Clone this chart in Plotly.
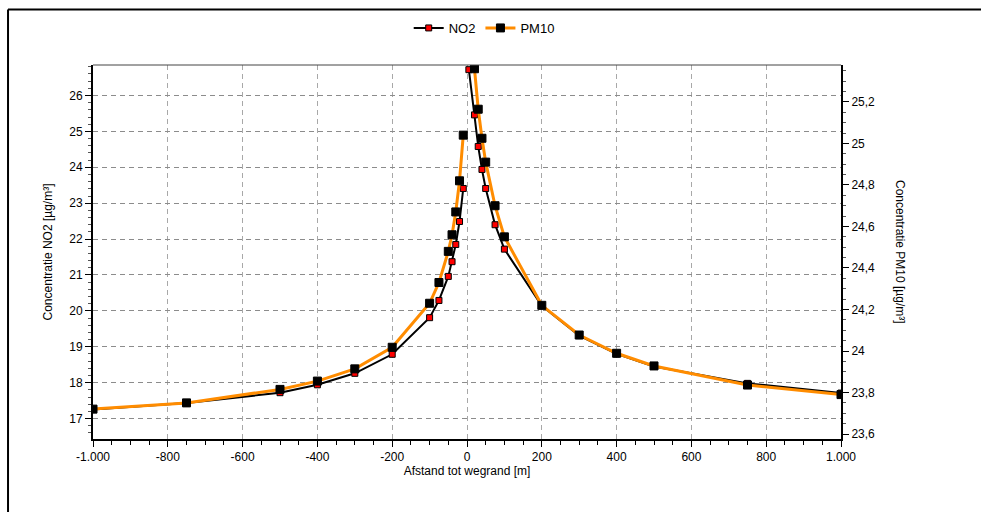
import plotly.graph_objects as go

# ---- data ----
distance_no2 = [-1000, -750, -500, -400, -300, -200, -100, -75, -50, -40, -30, -20, -10, None,
                5, 20, 30, 40, 50, 75, 100, 200, 300, 400, 500, 750, 1000]
no2 = [17.25, 17.43, 17.72, 17.94, 18.26, 18.79, 19.81, 20.29, 20.96, 21.37, 21.85, 22.49, 23.41, None,
       26.72, 25.46, 24.58, 23.94, 23.41, 22.40, 21.72, 20.14, 19.31, 18.80, 18.45, 17.98, 17.71]

distance_pm10 = [-1000, -750, -500, -400, -300, -200, -100, -75, -50, -40, -30, -20, -10, None,
                 20, 30, 40, 50, 75, 100, 200, 300, 400, 500, 750, 1000]
pm10 = [23.72, 23.75, 23.815, 23.855, 23.914, 24.018, 24.23, 24.33, 24.48, 24.56, 24.67, 24.82, 25.04, None,
        25.36, 25.165, 25.025, 24.91, 24.70, 24.55, 24.22, 24.077, 23.989, 23.928, 23.836, 23.79]

x_tickvals = [-1000, -800, -600, -400, -200, 0, 200, 400, 600, 800, 1000]
x_ticktext = ["-1.000", "-800", "-600", "-400", "-200", "0", "200", "400", "600", "800", "1.000"]

FONT = "Arial, Liberation Sans, sans-serif"

fig = go.Figure()
fig.add_trace(go.Scatter(
    x=distance_no2, y=no2, name="NO2", mode="lines+markers", connectgaps=False,
    line=dict(color="black", width=2),
    marker=dict(symbol="square", size=6, color="#ff0000", line=dict(color="black", width=1)),
    yaxis="y"))
fig.add_trace(go.Scatter(
    x=distance_pm10, y=pm10, name="PM10", mode="lines+markers", connectgaps=False,
    line=dict(color="#ff8c00", width=3),
    marker=dict(symbol="square", size=8, color="black", line=dict(color="black", width=1)),
    yaxis="y2"))

grid_dash = "5px,4px"
fig.update_layout(
    width=981, height=512,
    margin=dict(l=93, r=140, t=65, b=73),
    paper_bgcolor="white", plot_bgcolor="white",
    font=dict(family=FONT, size=12, color="black"),
    separators=",.",
    showlegend=True,
    legend=dict(orientation="h", x=0.523, y=1.099, xanchor="center", yanchor="middle",
                font=dict(size=13), bgcolor="rgba(0,0,0,0)", itemwidth=30),
    xaxis=dict(
        range=[-1000, 1000], tickmode="array", tickvals=x_tickvals, ticktext=x_ticktext,
        showline=True, linecolor="black", linewidth=2,
        ticks="outside", ticklen=6, tickcolor="black", tickwidth=1,
        showgrid=True, gridcolor="#a8a8a8", gridwidth=1, griddash=grid_dash,
        zeroline=False,
        minor=dict(dtick=50, tick0=0, ticks="outside", ticklen=4, tickcolor="black", showgrid=False),
        title=dict(text="Afstand tot wegrand [m]", standoff=2, font=dict(size=12)),
    ),
    yaxis=dict(
        range=[16.43, 26.85], dtick=1, tick0=17,
        showline=True, linecolor="black", linewidth=2,
        ticks="outside", ticklen=6, tickcolor="black", tickwidth=1,
        showgrid=True, gridcolor="#8c8c8c", gridwidth=1, griddash=grid_dash,
        zeroline=False,
        minor=dict(dtick=0.2, tick0=17, ticks="outside", ticklen=3, tickcolor="#555", showgrid=False),
        title=dict(text="Concentratie NO2 [µg/m³]", standoff=14, font=dict(size=12)),
    ),
    yaxis2=dict(
        range=[23.576, 25.378], dtick=0.2, tick0=23.6, overlaying="y", side="right",
        showline=True, linecolor="black", linewidth=2,
        ticks="outside", ticklen=6, tickcolor="black", tickwidth=1,
        showgrid=False, zeroline=False,
        minor=dict(dtick=0.05, tick0=23.6, ticks="outside", ticklen=3, tickcolor="#555", showgrid=False),
    ),
    annotations=[dict(text="Concentratie PM10 [µg/m³]", textangle=90, xref="paper", yref="paper",
                      x=1.0789, y=0.5, xanchor="center", yanchor="middle", showarrow=False,
                      font=dict(size=12))],
    shapes=[
        dict(type="line", xref="paper", yref="paper", x0=0, x1=1, y0=1, y1=1,
             line=dict(color="#444", width=1)),
        dict(type="line", xref="paper", yref="paper", x0=-0.1136, x1=1.5, y0=1.1484, y1=1.1484,
             line=dict(color="black", width=2)),
        dict(type="line", xref="paper", yref="paper", x0=-0.1136, x1=-0.1136, y0=1.1484, y1=-0.5,
             line=dict(color="black", width=2)),
    ],
)

fig.write_html("out.html", config={"displayModeBar": False},
               post_script="document.body.style.margin='0';")
